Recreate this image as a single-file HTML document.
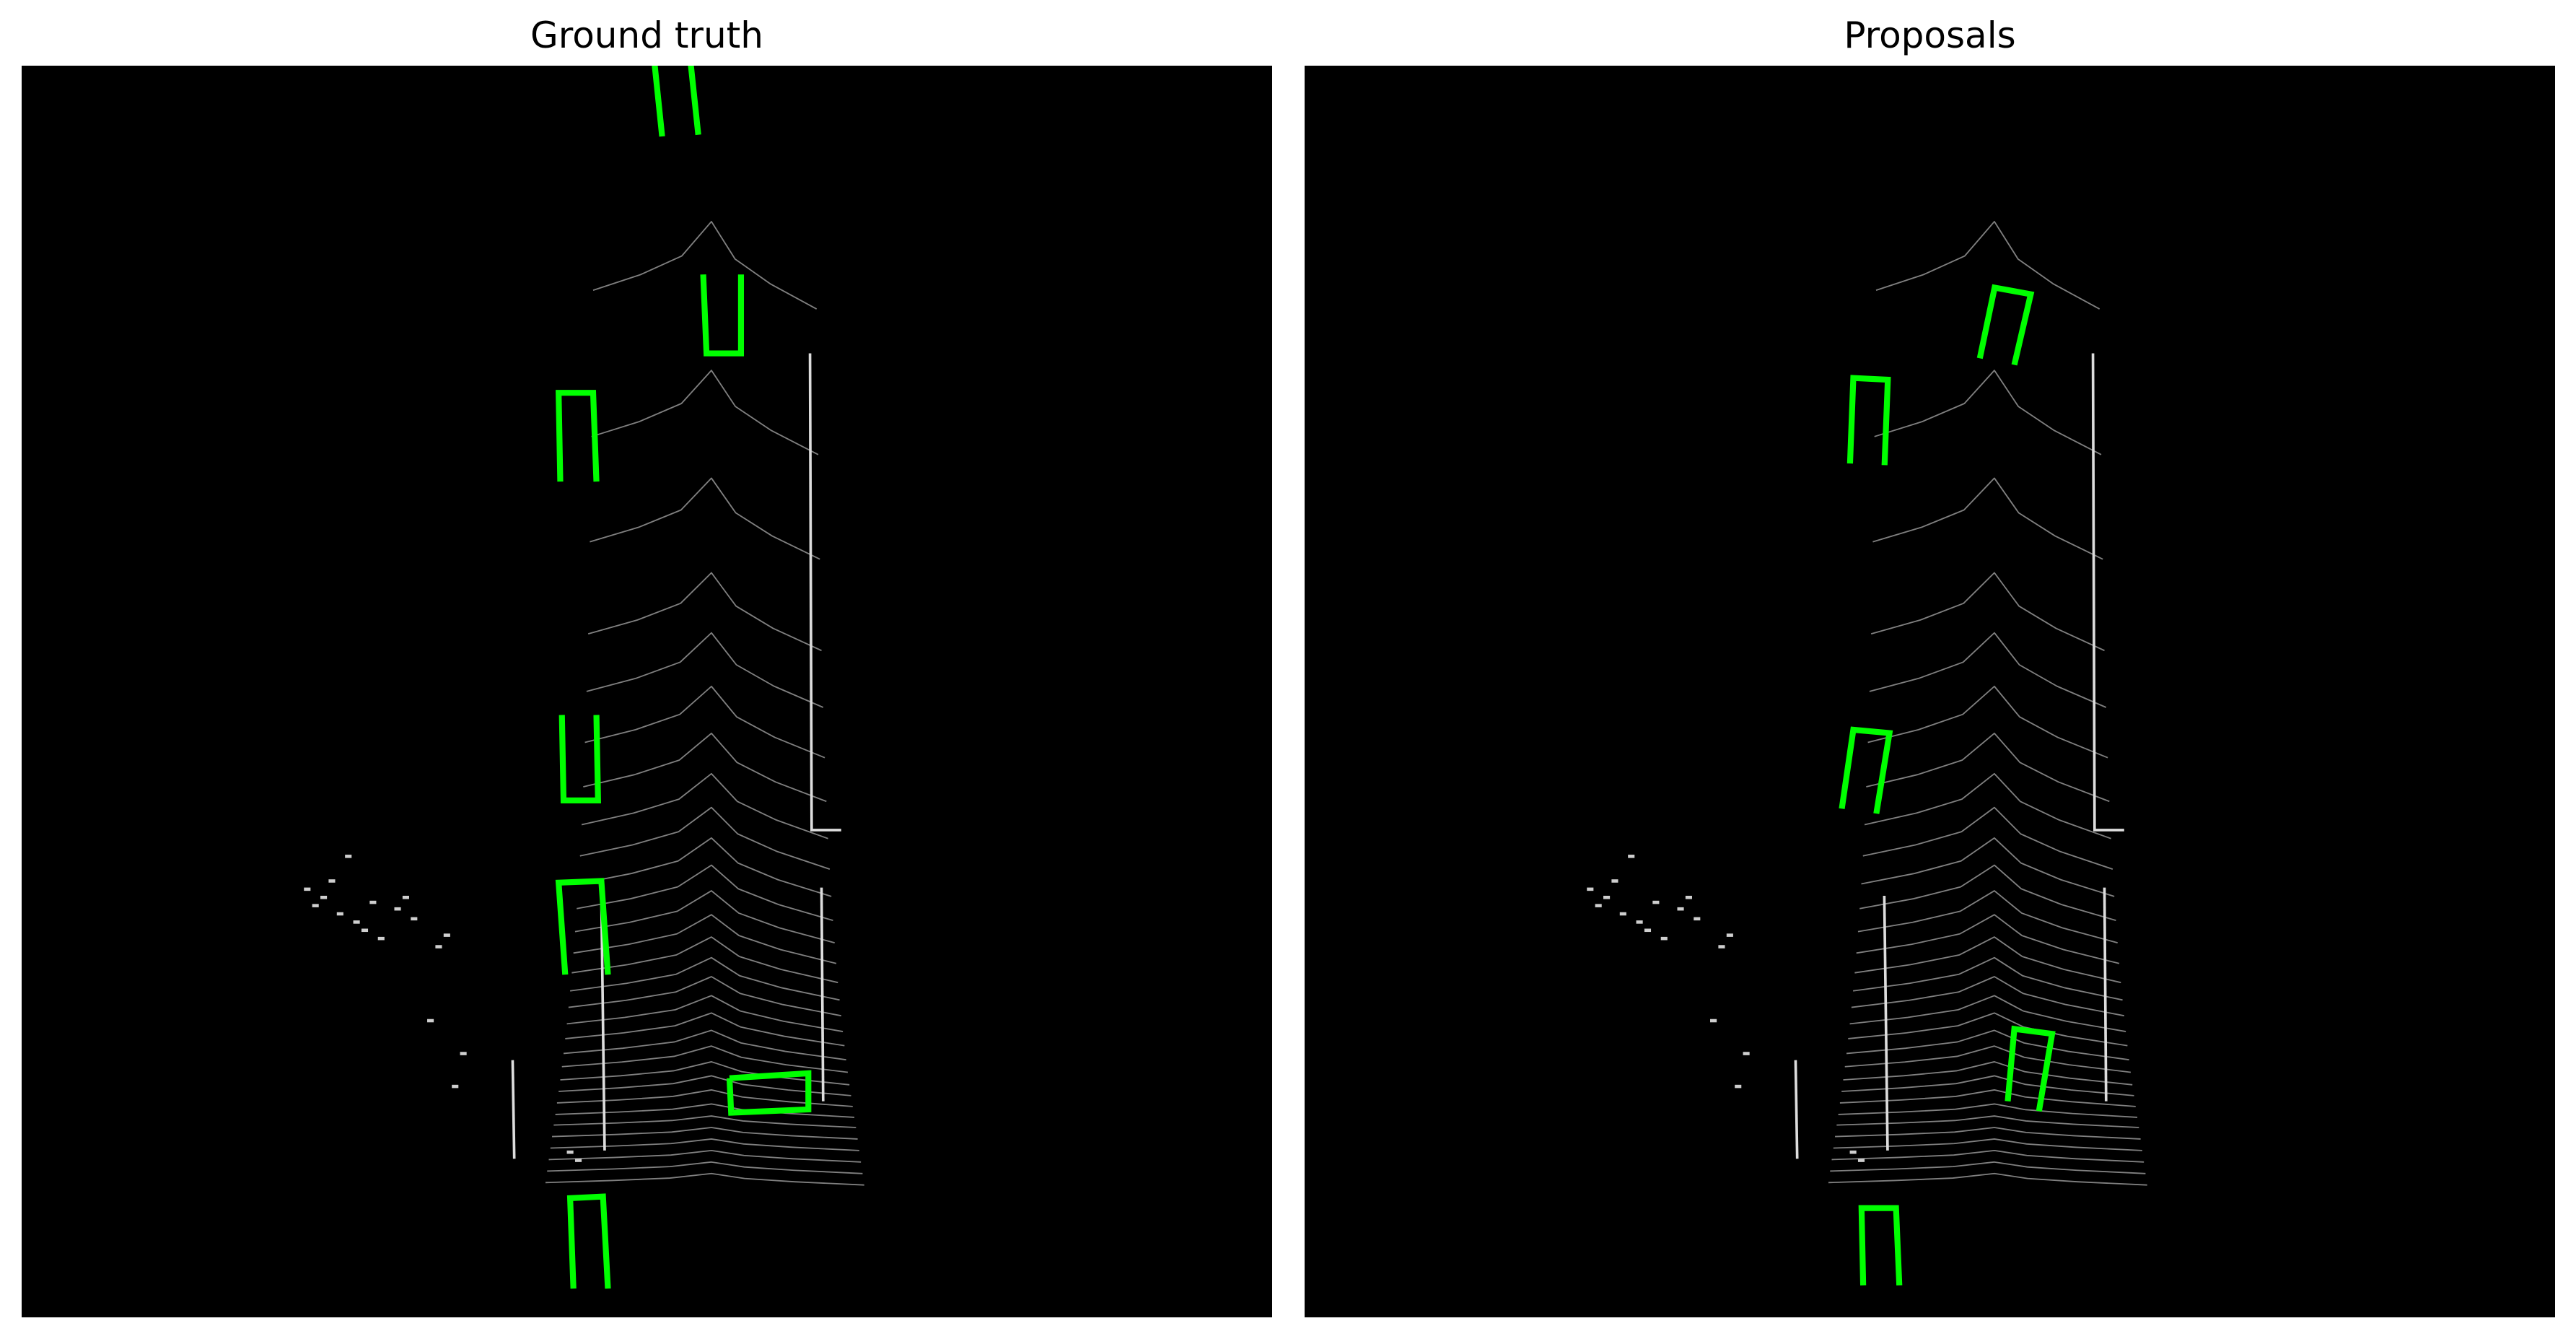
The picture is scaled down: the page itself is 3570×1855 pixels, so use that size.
<!DOCTYPE html>
<html><head><meta charset="utf-8"><style>
html,body{margin:0;padding:0;background:#fff;width:3570px;height:1855px;overflow:hidden}
.t{position:absolute;top:20px;font:50px "DejaVu Sans","Liberation Sans",sans-serif;color:#000;text-align:center;width:1733px}
svg{position:absolute;left:0;top:0}
</style></head><body>
<div class="t" style="left:30px">Ground truth</div>
<div class="t" style="left:1808px">Proposals</div>
<svg width="3570" height="1855" viewBox="0 0 3570 1855">
<defs>
<clipPath id="cl"><rect x="30" y="91" width="1733" height="1734"/></clipPath>
<clipPath id="cr"><rect x="1808" y="91" width="1733" height="1734"/></clipPath>
</defs>
<rect x="30" y="91" width="1733" height="1734" fill="#000"/>
<rect x="1808" y="91" width="1733" height="1734" fill="#000"/>
<g clip-path="url(#cl)">
 <g id="scene" transform="scale(2.277)"></g>
</g>
<g clip-path="url(#cr)">
 <use href="#scene" transform="translate(1778,0)"/>
</g>
<g clip-path="url(#cl)">
 <g id="boxesL" transform="scale(2.277)" fill="none" stroke="#00ff00" stroke-width="3.6"></g>
</g>
<g clip-path="url(#cr)">
 <g id="boxesR" transform="scale(2.277)" fill="none" stroke="#00ff00" stroke-width="3.6"></g>
</g>
</svg>
<script>
const scanYs=[150,240,305,362,398,430,458,482,502,520,536,551,565,578,590,601,612,622,632,641,650,658,666,674,681,688,695,702,709,716];
const gtBoxes=[
 "398,35 403,83|420,35 425,82",
 "428,167 430,215 451,215 451,167",
 "341,293 340,239 361,239 363,293",
 "342,435 343,487 364,487 363,435",
 "344,593 340,537 366,536 370,593",
 "444,656 492,653 492,675 445,677 444,656",
 "349,784 347,729 367,728 370,784"];
const propBoxes=[
 "1205,218 1214,175 1236,179 1226,222",
 "1126,282 1128,230 1149,231 1147,283",
 "1121,492 1128,444 1150,446 1142,495",
 "1222,670 1226,626 1249,629 1241,676",
 "1134,782 1133,735 1154,735 1156,782"];
const NS='http://www.w3.org/2000/svg';
const sc=document.getElementById('scene');
function pl(pts,attrs,parent){const p=document.createElementNS(NS,'polyline');p.setAttribute('points',pts);for(const k in attrs)p.setAttribute(k,attrs[k]);parent.appendChild(p);return p;}
scanYs.forEach((y,i)=>{
 const w=72+i*1.0, dip=Math.max(5,38-i*1.4), cx=433;
 const p=pl(`${cx-w},${y+dip*0.7} ${cx-w*0.6},${y+dip*0.45} ${cx-w*0.25},${y+dip*0.15} ${cx},${y-dip*0.4} ${cx+w*0.2},${y+dip*0.2} ${cx+w*0.5},${y+dip*0.6} ${cx+w-8},${y+dip*1.0}`,{fill:'none',stroke:'#808080','stroke-width':'0.8','stroke-linejoin':'round'},sc);
 
 
});
const curbs=["493,215 494,505 512,505","500,540 501,670","366,545 368,700","312,645 313,705"];
curbs.forEach(c=>{const p=pl(c,{fill:'none',stroke:'#dddddd','stroke-width':'1.6'},sc);
 
 });
const blob=[[185,540],[195,545],[205,555],[215,560],[225,548],[240,552],[250,558],[210,520],[220,565],[200,535],[230,570],[265,575],[270,568],[245,545],[190,550],[260,620],[275,660],[280,640],[345,700],[350,705]];
blob.forEach(b=>{const r=document.createElementNS(NS,'rect');r.setAttribute('x',b[0]);r.setAttribute('y',b[1]);r.setAttribute('width',4);r.setAttribute('height',2);r.setAttribute('fill','#cfcfcf');
 
 
 sc.appendChild(r);});
const bl=document.getElementById('boxesL');
gtBoxes.forEach(b=>b.split('|').forEach(s=>{const p=pl(s,{},bl);
 
 }));
const br=document.getElementById('boxesR');
propBoxes.forEach(b=>{const p=pl(b,{},br);
 
 });
</script>
</body></html>
